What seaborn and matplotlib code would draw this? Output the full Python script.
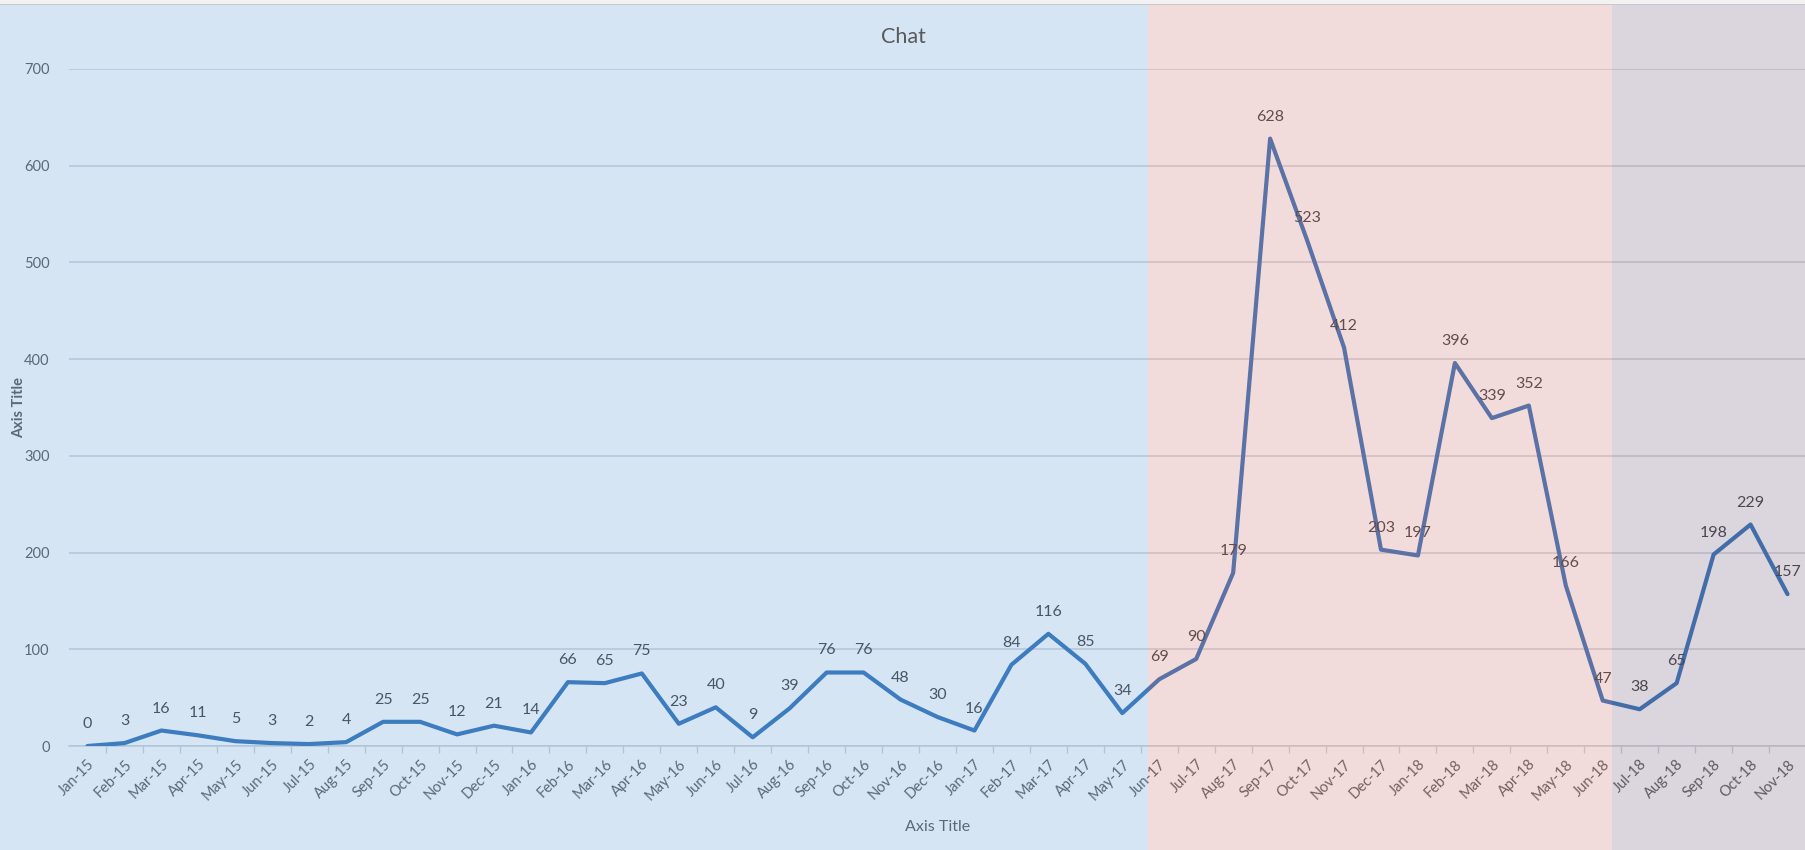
import matplotlib
matplotlib.use('Agg')
import matplotlib.pyplot as plt
import matplotlib.transforms as mtransforms
from matplotlib.patches import Rectangle
import pandas as pd
import seaborn as sns

sns.set_style('white')
plt.rcParams['font.family'] = ['Lato', 'DejaVu Sans']

# data
months = ['Jan', 'Feb', 'Mar', 'Apr', 'May', 'Jun',
          'Jul', 'Aug', 'Sep', 'Oct', 'Nov', 'Dec']
years = ['15', '16', '17', '18']
labels = [m + '-' + y for y in years for m in months][:47]
counts = [0, 3, 16, 11, 5, 3, 2, 4, 25, 25, 12, 21,
          14, 66, 65, 75, 23, 40, 9, 39, 76, 76, 48, 30,
          16, 84, 116, 85, 34, 69, 90, 179, 628, 523, 412, 203,
          197, 396, 339, 352, 166, 47, 38, 65, 198, 229, 157]

# shaded periods (category positions of the borders)
blue_end = 28.7
pink_end = 41.25

df = pd.DataFrame({'pos': range(len(counts)), 'count': counts})

fig = plt.figure(figsize=(18.06, 8.5), dpi=100)
fig.patch.set_facecolor('white')
ax = fig.add_axes([69 / 1806, 1 - 746 / 850, 1 - 69 / 1806, (746 - 69) / 850])
ax.set_facecolor('none')

grey = '#595959'
sns.lineplot(data=df, x='pos', y='count', color='#3372b8', linewidth=3.0,
             ax=ax, zorder=3)

for x, y in zip(df['pos'], df['count']):
    ax.annotate(str(y), (x, y), xytext=(0, 22), textcoords='offset pixels',
                ha='center', va='center', fontsize=11.5, color='#404040')

ax.set_xlim(-0.5, len(counts) - 0.5)
ax.set_ylim(0, 700)
ax.set_yticks(range(0, 701, 100))
ax.yaxis.grid(True, color='#cfd3d8', linewidth=1.1)
ax.set_axisbelow(True)
ax.set_xticks(range(len(counts)))
ax.set_xticklabels(labels, rotation=45, ha='right', rotation_mode='anchor')
ax.set_xticks([i + 0.5 for i in range(len(counts) - 1)], minor=True)
ax.tick_params(axis='x', which='major', length=0, pad=8, labelsize=10.5,
               labelcolor=grey)
ax.tick_params(axis='x', which='minor', length=5, color='#cfd3d8',
               bottom=True, width=1)
ax.tick_params(axis='y', length=0, labelsize=10.5, labelcolor=grey, pad=14)
for s in ['top', 'right', 'left']:
    ax.spines[s].set_visible(False)
ax.spines['bottom'].set_color('#cfd3d8')
ax.spines['bottom'].set_linewidth(1.1)

ax.set_xlabel('Axis Title', fontsize=11.5, color=grey, labelpad=12)
ax.set_ylabel('Axis Title', fontsize=10.5, color=grey, fontweight='bold')
ax.yaxis.set_label_coords(-0.0245, 0.5)
fig.text(0.5, 0.957, 'Chat', ha='center', va='center', fontsize=15.5,
         color=grey)

# translucent period shading over everything
trans = mtransforms.blended_transform_factory(ax.transData, fig.transFigure)
x_left = -0.5 - 69 / 37.0
x_right = len(counts) - 0.5 + 1
for x0, x1, c in [(x_left, blue_end, '#5b9bd5'),
                  (blue_end, pink_end, '#cf7373'),
                  (pink_end, x_right, '#735f7f')]:
    ax.add_patch(Rectangle((x0, 0), x1 - x0, 1, transform=trans,
                           facecolor=c, edgecolor='none', alpha=0.25,
                           zorder=10, clip_on=False))

# thin window strip at the top
fig.patches.append(Rectangle((0, 1 - 4 / 850), 1, 4 / 850,
                             transform=fig.transFigure, facecolor='#f2f2f2',
                             edgecolor='none', zorder=20))
fig.patches.append(Rectangle((0, 1 - 5 / 850), 1, 1 / 850,
                             transform=fig.transFigure, facecolor='#c8c8c8',
                             edgecolor='none', zorder=20))

fig.savefig('out.png', dpi=100)
